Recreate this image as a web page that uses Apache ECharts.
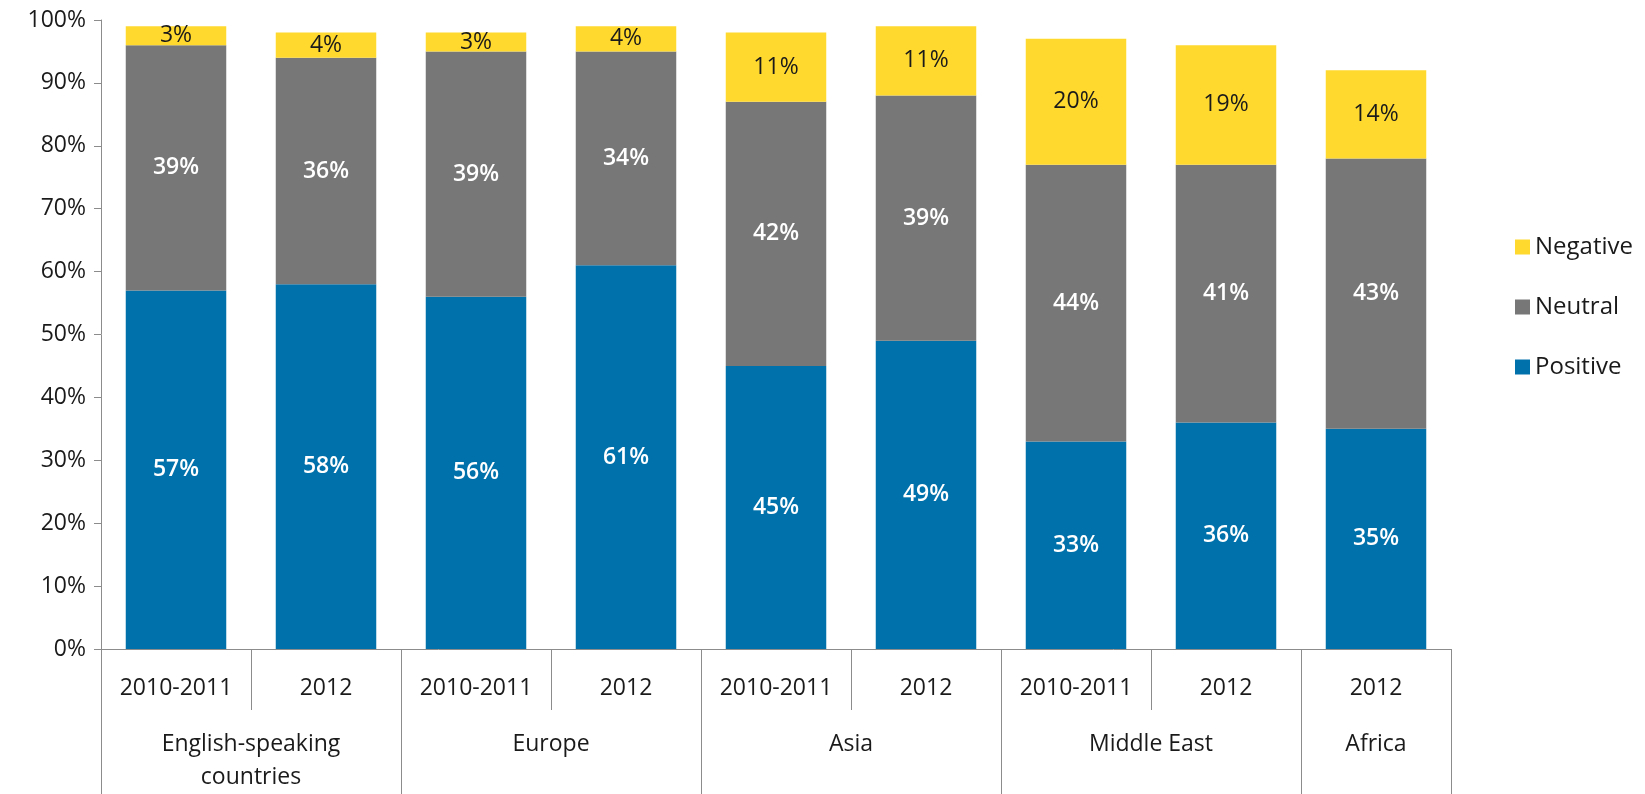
<!DOCTYPE html>
<html>
<head>
<meta charset="utf-8">
<script src="https://cdn.jsdelivr.net/npm/echarts@6/dist/echarts.min.js"></script>
<style>
  html, body { margin: 0; padding: 0; background: #ffffff; overflow: hidden; }
  #chart { width: 1645px; height: 794px; }
</style>
</head>
<body>
<div id="chart"></div>
<script>
// Survey periods per region (inner axis labels)
const periods = ['2010-2011', '2012', '2010-2011', '2012', '2010-2011', '2012', '2010-2011', '2012', '2012'];
// Region groups (outer axis labels) and how many periods each spans
const groupNames = ['English-speaking\ncountries', 'Europe', 'Asia', 'Middle East', 'Africa'];
const groupSizes = [2, 2, 2, 2, 1];

// Share of coverage by tone, in percent
const positive = [57, 58, 56, 61, 45, 49, 33, 36, 35];
const neutral  = [39, 36, 39, 34, 42, 39, 44, 41, 43];
const negative = [3, 4, 3, 4, 11, 11, 20, 19, 14];

const yTicks = [0, 10, 20, 30, 40, 50, 60, 70, 80, 90, 100];

// Group boundaries and centres along the category axis
const groupEdges = [0];
groupSizes.forEach(function (s) { groupEdges.push(groupEdges[groupEdges.length - 1] + s); });
const groupCentres = groupSizes.map(function (s, i) { return groupEdges[i] + s / 2; });

const FONT = '"Open Sans", "Liberation Sans", sans-serif';
const AXIS_COLOR = '#8c8c8c';
const TEXT_COLOR = '#1a1a1a';

const chart = echarts.init(document.getElementById('chart'), null, { renderer: 'canvas' });

function barLabel(color, weight) {
  return {
    show: true,
    position: 'inside',
    color: color,
    fontFamily: FONT,
    fontSize: 23,
    fontWeight: weight,
    formatter: function (p) { return p.value + '%'; }
  };
}

chart.setOption({
  backgroundColor: '#ffffff',
  animation: false,
  textStyle: { fontFamily: FONT },
  grid: { left: 101, right: 194, top: 20, bottom: 142, containLabel: false },
  legend: {
    orient: 'vertical',
    left: 1510,
    top: 228,
    itemWidth: 15,
    itemHeight: 15,
    itemGap: 32,
    icon: 'rect',
    data: ['Negative', 'Neutral', 'Positive'],
    textStyle: { fontFamily: FONT, fontSize: 24, color: TEXT_COLOR, lineHeight: 28 }
  },
  xAxis: [
    {
      type: 'category',
      data: periods,
      position: 'bottom',
      axisLine: { show: true, lineStyle: { color: AXIS_COLOR, width: 1 } },
      axisTick: { show: true, interval: 0, alignWithLabel: false, length: 61, lineStyle: { color: AXIS_COLOR } },
      axisLabel: { interval: 0, margin: 27, fontSize: 23, color: TEXT_COLOR, fontFamily: FONT, lineHeight: 24 },
      splitLine: { show: false }
    },
    {
      type: 'value',
      min: 0,
      max: periods.length,
      position: 'bottom',
      axisLine: { show: false },
      splitLine: { show: false },
      axisTick: {
        show: true,
        customValues: groupEdges,
        length: 150,
        lineStyle: { color: AXIS_COLOR }
      },
      axisLabel: {
        show: true,
        customValues: groupCentres,
        margin: 79,
        fontSize: 23,
        lineHeight: 33,
        color: TEXT_COLOR,
        fontFamily: FONT,
        formatter: function (v) {
          const i = groupCentres.indexOf(v);
          return i >= 0 ? groupNames[i] : '';
        }
      }
    }
  ],
  yAxis: {
    type: 'value',
    min: 0,
    max: 100,
    interval: 10,
    axisLine: { show: true, lineStyle: { color: AXIS_COLOR } },
    axisTick: { show: true, length: 7, lineStyle: { color: AXIS_COLOR } },
    axisLabel: {
      margin: 15,
      fontSize: 23,
      color: TEXT_COLOR,
      fontFamily: FONT,
      formatter: function (v) { return yTicks.indexOf(v) >= 0 ? v + '%' : ''; }
    },
    splitLine: { show: false }
  },
  series: [
    {
      name: 'Positive',
      type: 'bar',
      stack: 'tone',
      xAxisIndex: 0,
      barCategoryGap: '33%',
      data: positive,
      itemStyle: { color: '#0071AB' },
      label: barLabel('#ffffff', 600)
    },
    {
      name: 'Neutral',
      type: 'bar',
      stack: 'tone',
      xAxisIndex: 0,
      data: neutral,
      itemStyle: { color: '#777777' },
      label: barLabel('#ffffff', 600)
    },
    {
      name: 'Negative',
      type: 'bar',
      stack: 'tone',
      xAxisIndex: 0,
      data: negative,
      itemStyle: { color: '#FFD92E' },
      label: barLabel('#1a1a1a', 'normal')
    }
  ]
});
</script>
</body>
</html>
